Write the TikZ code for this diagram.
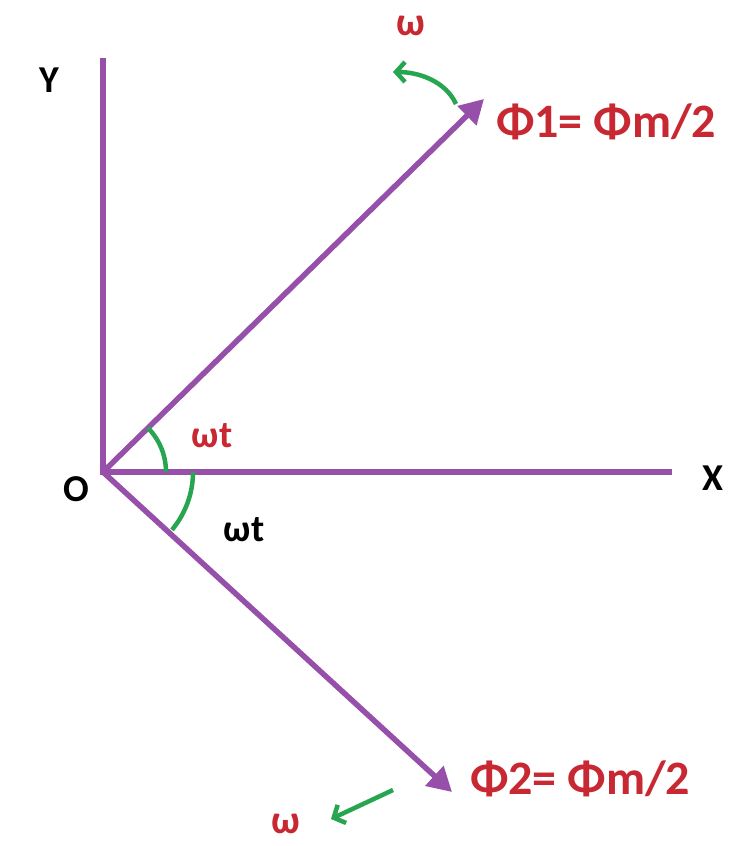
\documentclass[tikz,border=0pt]{standalone}
\usepackage{fontspec}
\setmainfont{Carlito}
\usetikzlibrary{arrows.meta,calc}
\definecolor{vpurple}{RGB}{150,80,170}
\definecolor{vred}{RGB}{200,40,50}
\definecolor{vgreen}{RGB}{40,165,80}
\begin{document}
\begin{tikzpicture}[x=1pt,y=-1pt,
  vec/.style={draw=vpurple,line width=5.5pt},
  vecarrow/.style={vec,-{Triangle[length=24pt,width=26pt]}},
  grn/.style={draw=vgreen,line width=4.5pt},
  grnarrow/.style={grn,-{Straight Barb[length=9pt,width=20pt]}},
  blk/.style={font=\fontsize{38}{40}\selectfont\bfseries,text=black,inner sep=0pt},
  redl/.style={font=\fontsize{38}{40}\selectfont\bfseries,text=vred,inner sep=0pt},
  omg/.style={font=\fontsize{40}{42}\selectfont\bfseries,text=vred,inner sep=0pt,anchor=base},
  bigred/.style={font=\fontsize{48}{50}\selectfont\bfseries,text=vred,inner sep=0pt}]
\useasboundingbox (0,0) rectangle (734,846);
\fill[white] (0,0) rectangle (734,846);
\coordinate (O) at (103,472);
\coordinate (Ytop) at (103,58);
\coordinate (Xend) at (672,472);
\coordinate (P1) at (484,99);
\coordinate (P2) at (452,792);
\draw[vec] (Ytop) -- (O) -- (Xend);
\draw[vecarrow] (O) -- (P1);
\draw[vecarrow] (O) -- (P2);
% angle arcs
\draw[grn] ($(O)+(-44.8:63)$) arc[start angle=-44.8,end angle=0,radius=63];
\draw[grn] ($(O)+(0:90)$) arc[start angle=0,end angle=40,radius=90];
% rotation arrows
\coordinate (g1s) at (456,104);
\coordinate (g1e) at (393,72);
\draw[grnarrow] (g1s) .. controls (446,82) and (420,72) .. (g1e);
\coordinate (g2s) at (393,790);
\coordinate (g2e) at (331,819);
\draw[grnarrow] (g2s) -- (g2e);
% labels
\node[blk] (ly) at (49,80) {Y};
\node[blk] (lo) at (76,489) {O};
\node[blk] (lx) at (713,478) {X};
\node[omg] (w1) at (411,35) {ω};
\node[bigred,anchor=west] (f1) at (496,122) {Φ1= Φm/2};
\node[redl] (wt1) at (212,436) {ωt};
\node[blk] (wt2) at (244,530) {ωt};
\node[bigred,anchor=west] (f2) at (470,779) {Φ2= Φm/2};
\node[omg] (w2) at (286,833) {ω};
\end{tikzpicture}
\end{document}
